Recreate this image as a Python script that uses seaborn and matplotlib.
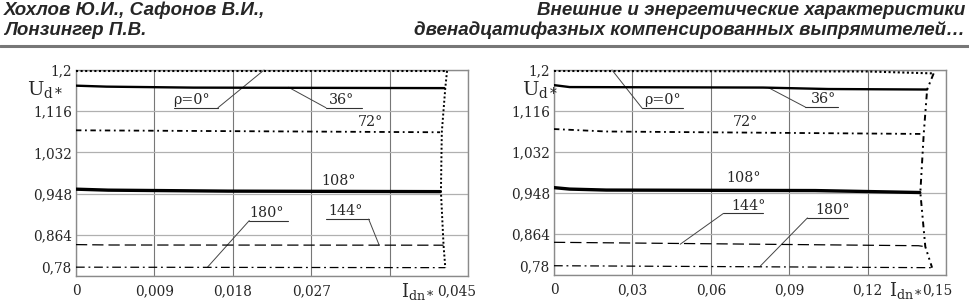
import numpy as np
import pandas as pd
import seaborn as sns
import matplotlib.pyplot as plt
import matplotlib.transforms as mtransforms

# ---- left chart: Idn* 0 .. 0.045 ----
L_rho0_x = [0, 0.0425];                    L_rho0_y = [1.198, 1.198]
L_36_x = [0, 0.0035, 0.0135, 0.0423];      L_36_y = [1.168, 1.166, 1.164, 1.163]
L_72_x = [0, 0.0418];                      L_72_y = [1.077, 1.073]
L_108_x = [0, 0.0037, 0.0175, 0.0418];     L_108_y = [0.957, 0.955, 0.953, 0.952]
L_144_x = [0, 0.004, 0.0422];              L_144_y = [0.844, 0.8432, 0.8428]
L_180_x = [0, 0.0424];                     L_180_y = [0.798, 0.797]
L_edge_x = [0.0426, 0.0424, 0.0420, 0.0419, 0.0422, 0.0424]
L_edge_y = [1.198, 1.163, 1.073, 0.952, 0.8428, 0.797]
L_xticks = [0, 0.009, 0.018, 0.027, 0.036, 0.045]
L_xlabels = ['0', '0,009', '0,018', '0,027', '', '0,045']

# ---- right chart: Idn* 0 .. 0.15 ----
R_rho0_x = [0, 0.12, 0.1452];                       R_rho0_y = [1.198, 1.197, 1.193]
R_36_x = [0, 0.006, 0.08, 0.105, 0.1428];           R_36_y = [1.169, 1.165, 1.164, 1.161, 1.160]
R_72_x = [0, 0.02, 0.1402];                         R_72_y = [1.079, 1.074, 1.069]
R_108_x = [0, 0.006, 0.02, 0.10, 0.1400];           R_108_y = [0.959, 0.956, 0.954, 0.953, 0.949]
R_144_x = [0, 0.1395, 0.1421];                      R_144_y = [0.847, 0.840, 0.838]
R_180_x = [0, 0.1447];                              R_180_y = [0.799, 0.795]
R_edge_x = [0.1453, 0.1428, 0.1415, 0.1402, 0.1421, 0.1447]
R_edge_y = [1.193, 1.160, 1.069, 0.949, 0.838, 0.795]
R_xticks = [0, 0.03, 0.06, 0.09, 0.12, 0.15]
R_xlabels = ['0', '0,03', '0,06', '0,09', '0,12', '0,15']

yticks = [0.78, 0.864, 0.948, 1.032, 1.116, 1.2]
ylabels = ['0,78', '0,864', '0,948', '1,032', '1,116', '1,2']

# curve labels: text, text pos, underline (x0, x1, y), leader end point (or None)
L_notes = [
    ('ρ=0°', (0.0112, 1.125), (0.0112, 0.0163, 1.123), (0.0216, 1.2)),
    ('36°', (0.0290, 1.125), (0.0287, 0.0328, 1.123), (0.0244, 1.1647)),
    ('72°', (0.0338, 1.094), None, None),
    ('108°', (0.0302, 0.973), None, None),
    ('180°', (0.0199, 0.895), (0.0199, 0.0244, 0.893), (0.0151, 0.798)),
    ('144°', (0.0290, 0.898), (0.0287, 0.0336, 0.896), (0.0348, 0.8434)),
]
R_notes = [
    ('ρ=0°', (0.0345, 1.124), (0.0337, 0.0494, 1.122), (0.0222, 1.2)),
    ('36°', (0.0985, 1.126), (0.0962, 0.1088, 1.124), (0.0820, 1.164)),
    ('72°', (0.0732, 1.093), None, None),
    ('108°', (0.0724, 0.978), None, None),
    ('144°', (0.0680, 0.908), (0.0648, 0.0800, 0.906), (0.0483, 0.843)),
    ('180°', (0.1000, 0.899), (0.0970, 0.1127, 0.897), (0.0790, 0.7985)),
]

sns.set_style('white')
plt.rcParams['font.family'] = ['DejaVu Serif']
plt.rcParams['mathtext.fontset'] = 'dejavuserif'

fig = plt.figure(figsize=(9.69, 3.03), dpi=100)
axL = fig.add_axes([0.0784, 0.0891, 0.4045, 0.680])
axR = fig.add_axes([0.5717, 0.0924, 0.4045, 0.6766])

styles = {
    'rho0': dict(linestyle=(0, (1, 1.2)), linewidth=1.5),
    '36': dict(linestyle='-', linewidth=1.7),
    '72': dict(linestyle=(0, (3, 2, 1, 2)), linewidth=1.3),
    '108': dict(linestyle='-', linewidth=2.4),
    '144': dict(linestyle=(0, (9, 4)), linewidth=0.9),
    '180': dict(linestyle=(0, (7, 3, 1.5, 3)), linewidth=0.9),
}


def draw_panel(ax, curves, edge, edge_style, xmax, xticks, xlabels, notes, xlab_shift):
    for key, (xs, ys) in curves.items():
        sns.lineplot(x=xs, y=ys, ax=ax, sort=False, estimator=None,
                     color='black', zorder=4, **styles[key])
    sns.lineplot(x=edge[0], y=edge[1], ax=ax, sort=False, estimator=None,
                 color='black', linewidth=1.4, linestyle=edge_style, zorder=4)

    ax.set_xlim(0, xmax)
    ax.set_ylim(0.78, 1.2)
    ax.set_xticks(xticks, xlabels)
    ax.set_yticks(yticks, ylabels)
    ax.tick_params(length=0, labelsize=9.8, pad=3)
    ax.tick_params(axis='x', pad=6)
    ax.grid(True, axis='x', color='#777777', linewidth=0.8)
    ax.grid(True, axis='y', color='#b0b0b0', linewidth=0.9)
    for s in ax.spines.values():
        s.set_color('#8a8a8a')
        s.set_linewidth(1.0)

    # last x label pulled left, lowest y label raised
    lab = ax.get_xticklabels()[-1]
    lab.set_transform(lab.get_transform() +
                      mtransforms.ScaledTranslation(xlab_shift / 100, 0, fig.dpi_scale_trans))
    lab = ax.get_yticklabels()[0]
    lab.set_transform(lab.get_transform() +
                      mtransforms.ScaledTranslation(0, 0.09, fig.dpi_scale_trans))

    for text, (tx, ty), under, lead in notes:
        ax.text(tx, ty, text, fontsize=10.3, ha='center' if under is None else 'left',
                va='bottom' if under is not None else 'center')
        if under is not None:
            x0, x1, uy = under
            ax.plot([x0, x1], [uy, uy], color='#333333', linewidth=0.8)
            lx, ly = lead
            sx = x0 if abs(lx - x0) < abs(lx - x1) else x1
            ax.plot([sx, lx], [uy, ly], color='#444444', linewidth=0.7, clip_on=False)


draw_panel(axL,
           {'rho0': (L_rho0_x, L_rho0_y), '36': (L_36_x, L_36_y), '72': (L_72_x, L_72_y),
            '108': (L_108_x, L_108_y), '144': (L_144_x, L_144_y), '180': (L_180_x, L_180_y)},
           (L_edge_x, L_edge_y), (0, (1, 1.2)), 0.045, L_xticks, L_xlabels, L_notes, -11)
draw_panel(axR,
           {'rho0': (R_rho0_x, R_rho0_y), '36': (R_36_x, R_36_y), '72': (R_72_x, R_72_y),
            '108': (R_108_x, R_108_y), '144': (R_144_x, R_144_y), '180': (R_180_x, R_180_y)},
           (R_edge_x, R_edge_y), (0, (3, 2, 1, 2, 1, 2)), 0.15, R_xticks, R_xlabels, R_notes, -9)

# axis names
for ax, ux, ix in [(axL, -0.125, 0.872), (axR, -0.082, 0.897)]:
    ax.text(ux, 0.905, r'$\mathrm{U}_{\mathrm{d*}}$', transform=ax.transAxes,
            fontsize=14, ha='left', va='center')
    ax.text(ix, -0.075, r'$\mathrm{I}_{\mathrm{dn*}}$', transform=ax.transAxes,
            fontsize=13, ha='center', va='center')

# header
hdr = dict(fontsize=13.5, fontweight='bold', fontstyle='italic',
           family=['Liberation Sans Narrow', 'Liberation Sans', 'DejaVu Sans'])
fig.text(0.004, 0.965, 'Хохлов Ю.И., Сафонов В.И.,', ha='left', va='center', **hdr)
fig.text(0.004, 0.900, 'Лонзингер П.В.', ha='left', va='center', **hdr)
fig.text(0.996, 0.965, 'Внешние и энергетические характеристики', ha='right', va='center', **hdr)
fig.text(0.996, 0.900, 'двенадцатифазных компенсированных выпрямителей…', ha='right', va='center', **hdr)
fig.add_artist(plt.Line2D([0, 1], [0.848, 0.848], color='#777777', linewidth=2.2,
                          transform=fig.transFigure))

fig.savefig('out.png', dpi=100)
